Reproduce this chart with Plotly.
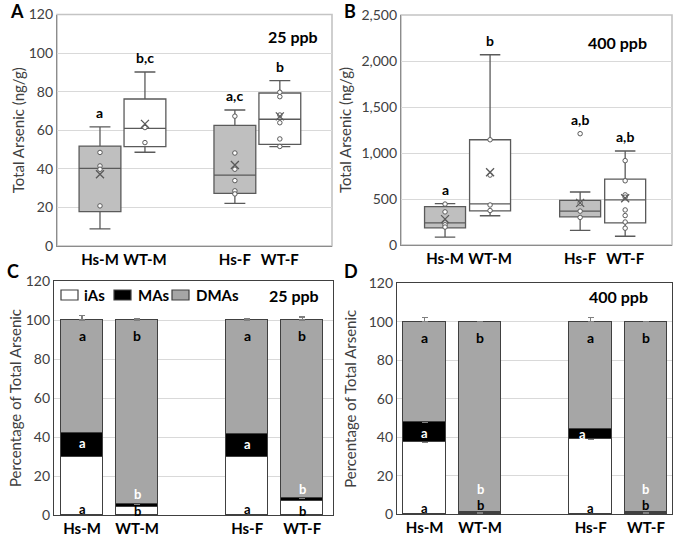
import plotly.graph_objects as go

# ---------------- data ----------------
groups = ["Hs-M", "WT-M", "Hs-F", "WT-F"]

# Panel A: total arsenic, 25 ppb (ng/g) - box statistics
a_lower = [8.9, 48.6, 22.1, 51.5]
a_q1 = [17.8, 51.5, 27.3, 52.7]
a_median = [40.2, 61.0, 36.7, 65.7]
a_q3 = [51.8, 76.2, 62.5, 79.3]
a_upper = [61.8, 90.2, 70.5, 85.7]
a_mean = [37.2, 63.3, 42.0, 67.2]
a_points = [[48.5, 41.5, 39.8, 20.8],
            [61.4, 53.6],
            [67.3, 48.2, 39.8, 33.9, 28.6, 27.0],
            [79.7, 77.4, 67.9, 63.9, 55.5, 51.6]]
a_letters = ["a", "b,c", "a,c", "b"]

# Panel B: total arsenic, 400 ppb (ng/g) - box statistics
b_lower = [85, 318, 160, 95]
b_q1 = [187, 372, 306, 240]
b_median = [240, 447, 368, 490]
b_q3 = [417, 1144, 485, 716]
b_upper = [450, 2068, 576, 1022]
b_mean = [281, 791, 458, 508]
b_points = [[445, 360, 240, 220, 195],
            [1144, 760, 435, 375],
            [1210, 455, 368, 300],
            [917, 698, 545, 520, 381, 320, 250, 183]]
b_letters = ["a", "b", "a,b", "a,b"]

# Panel C: species percentages, 25 ppb
c_ias = [30.0, 4.2, 30.0, 7.3]
c_mas = [12.2, 1.4, 11.7, 1.3]
c_dmas = [57.8, 94.4, 58.3, 91.4]
c_ias_err = [2.5, 0.7, 2.8, 0.8]
c_mas_err = [0.4, 0.3, 0.4, 0.3]
c_dmas_err = [2.3, 0.8, 0.6, 1.5]
c_ias_letters = ["a", "b", "a", "b"]
c_mas_letters = ["a", "b", "a", "b"]
c_dmas_letters = ["a", "b", "a", "b"]

# Panel D: species percentages, 400 ppb
d_ias = [37.2, 0.6, 38.8, 0.5]
d_mas = [10.8, 0.4, 5.6, 0.4]
d_dmas = [52.0, 99.0, 55.6, 99.1]
d_ias_err = [2.0, 0.2, 3.0, 0.2]
d_mas_err = [2.0, 0.1, 1.5, 0.1]
d_dmas_err = [2.3, 0.3, 2.2, 0.3]
d_ias_letters = ["a", "b", "a", "b"]
d_mas_letters = ["a", "b", "a", "b"]
d_dmas_letters = ["a", "b", "a", "b"]

species = ["iAs", "MAs", "DMAs"]

# ---------------- layout helpers ----------------
W, H = 685, 538
FONT = "Lato"
DARK = "#404040"
pos = [0, 1, 3, 4]          # x slots (gap between male and female groups)

def px_x(p):
    return p / W

def px_y(p):
    return 1 - p / H

fig = go.Figure()

box_fill = ["#bfbfbf", "#ffffff", "#bfbfbf", "#ffffff"]
box_line = "#5a5a5a"

def add_boxes(xa, ya, lower, q1, med, q3, upper, mean, points, width):
    for i in range(4):
        fig.add_trace(go.Box(
            x=[pos[i]], lowerfence=[lower[i]], q1=[q1[i]], median=[med[i]],
            q3=[q3[i]], upperfence=[upper[i]], orientation="v",
            width=width, whiskerwidth=0.5, boxpoints=False,
            fillcolor=box_fill[i], line=dict(color=box_line, width=1.3),
            xaxis=xa, yaxis=ya, showlegend=False, hoverinfo="skip"))
        fig.add_trace(go.Scatter(
            x=[pos[i]] * len(points[i]), y=points[i], mode="markers",
            marker=dict(symbol="circle", size=4.5, color="white",
                        line=dict(color=box_line, width=1)),
            xaxis=xa, yaxis=ya, showlegend=False, hoverinfo="skip",
            cliponaxis=False))
        fig.add_trace(go.Scatter(
            x=[pos[i]], y=[mean[i]], mode="markers",
            marker=dict(symbol="x-thin", size=8,
                        line=dict(color=box_line, width=1.3)),
            xaxis=xa, yaxis=ya, showlegend=False, hoverinfo="skip"))

add_boxes("x", "y", a_lower, a_q1, a_median, a_q3, a_upper, a_mean, a_points, 0.93)
add_boxes("x2", "y2", b_lower, b_q1, b_median, b_q3, b_upper, b_mean, b_points, 0.91)

bar_fill = ["#ffffff", "#000000", "#a6a6a6"]

def add_bars(xa, ya, vals, errs, width):
    for k in range(3):
        fig.add_trace(go.Bar(
            x=pos, y=vals[k], name=species[k], width=width,
            marker=dict(color=bar_fill[k], line=dict(color=DARK, width=1.3)),
            error_y=dict(type="data", array=errs[k], arrayminus=[0] * 4,
                         symmetric=False, color="#7f7f7f", thickness=1.2, width=3),
            xaxis=xa, yaxis=ya, showlegend=False, hoverinfo="skip"))

add_bars("x3", "y3", [c_ias, c_mas, c_dmas], [c_ias_err, c_mas_err, c_dmas_err], 0.76)
add_bars("x4", "y4", [d_ias, d_mas, d_dmas], [d_ias_err, d_mas_err, d_dmas_err], 0.77)

# ---------------- axes ----------------
tick_font = dict(family=FONT, size=14, color=DARK)
xtick_font = dict(family=FONT, size=15, color="#000000", weight="bold")
title_font = dict(family=FONT, size=15, color=DARK)

def xaxis(dom, rng, anchor, line_color, mirror):
    return dict(domain=dom, range=rng, anchor=anchor, tickvals=pos, ticktext=groups,
                tickfont=xtick_font, showgrid=False, zeroline=False,
                showline=True, linecolor=line_color, linewidth=1.3, mirror=mirror,
                ticks="", fixedrange=True, automargin=False)

def yaxis(dom, rng, dtick, anchor, title, line_color, mirror, standoff, fmt=None):
    d = dict(domain=dom, range=rng, dtick=dtick, anchor=anchor,
             tickfont=tick_font, showgrid=True, gridcolor="#d9d9d9", gridwidth=1,
             zeroline=False, showline=True, linecolor=line_color, linewidth=1.3,
             mirror=mirror, ticks="", automargin=False, fixedrange=True,
             title=dict(text=title, font=title_font, standoff=standoff))
    if fmt:
        d["tickformat"] = fmt
    return d

A_dx = [px_x(57), px_x(332)]
A_dy = [px_y(246), px_y(14.5)]
B_dx = [px_x(401), px_x(672)]
B_dy = [px_y(245), px_y(15)]
C_dx = [px_x(54), px_x(333)]
C_dy = [px_y(515), px_y(281)]
D_dx = [px_x(397), px_x(672)]
D_dy = [px_y(514.3), px_y(283.3)]

fig.update_layout(
    xaxis=xaxis(A_dx, [-0.956, 5.16], "y", "#8c8c8c", False),
    yaxis=yaxis(A_dy, [0, 120], 20, "x", "Total Arsenic (ng/g)", "#8c8c8c", False, 0),
    xaxis2=xaxis(B_dx, [-0.978, 5.04], "y2", "#8c8c8c", False),
    yaxis2=yaxis(B_dy, [0, 2500], 500, "x2", "Total Arsenic (ng/g)", "#8c8c8c", False, 6, ",d"),
    xaxis3=xaxis(C_dx, [-0.51, 4.56], "y3", DARK, True),
    yaxis3=yaxis(C_dy, [0, 120], 20, "x3", "Percentage of Total Arsenic", DARK, True, 0),
    xaxis4=xaxis(D_dx, [-0.5, 4.47], "y4", DARK, True),
    yaxis4=yaxis(D_dy, [0, 120], 20, "x4", "Percentage of Total Arsenic", DARK, True, 8),
)

# light frame on A and B (top/right edges)
for xr, yr in [("x", "y"), ("x2", "y2")]:
    fig.add_shape(type="rect", xref=f"{xr} domain", yref=f"{yr} domain",
                  x0=0, x1=1, y0=0, y1=1, layer="below",
                  line=dict(color="#c4c4c4", width=1.6))

# ---------------- annotations ----------------
ann = []
lbl_font = dict(family=FONT, size=14, color="#000000", weight="bold")

def box_labels(xa, ya, letters, upper, points):
    for i in range(4):
        top = max([upper[i]] + points[i])
        ann.append(dict(x=pos[i], y=top, xref=xa, yref=ya, text=letters[i],
                        showarrow=False, yshift=14, font=lbl_font))

box_labels("x", "y", a_letters, a_upper, a_points)
box_labels("x2", "y2", b_letters, b_upper, b_points)

# stacked-bar letter positions (layout)
c_dmas_y = [92, 92, 92, 92]
c_mas_y = [37, 10.8, 36.5, 13.4]
c_ias_y = [3.2, 2.0, 3.2, 2.0]
d_dmas_y = [92, 92, 92, 92]
d_mas_y = [42, 13, 41.5, 13]
d_ias_y = [3.2, 4.8, 3.2, 4.8]
d_mas_dx = [0, 0, -0.15, 0]

def bar_labels(xa, ya, letters, ys, color, dx=None, size=14):
    for i in range(4):
        ann.append(dict(x=pos[i] + (dx[i] if dx else 0), y=ys[i], xref=xa, yref=ya,
                        text=letters[i], showarrow=False,
                        font=dict(family=FONT, size=size, color=color, weight="bold")))

bar_labels("x3", "y3", c_dmas_letters, c_dmas_y, "#000000")
bar_labels("x3", "y3", c_mas_letters, c_mas_y, "#ffffff", size=13)
bar_labels("x3", "y3", c_ias_letters, c_ias_y, "#000000", size=13)
bar_labels("x4", "y4", d_dmas_letters, d_dmas_y, "#000000")
bar_labels("x4", "y4", d_mas_letters, d_mas_y, "#ffffff", d_mas_dx, size=13)
bar_labels("x4", "y4", d_ias_letters, d_ias_y, "#000000", size=13)

ppb_font = dict(family=FONT, size=16, color="#000000", weight="bold")
for text, x, y in [("25 ppb", 293, 37), ("400 ppb", 617, 42), ("25 ppb", 294, 295), ("400 ppb", 618, 296)]:
    ann.append(dict(x=px_x(x), y=px_y(y), xref="paper", yref="paper", text=text,
                    showarrow=False, font=ppb_font, xanchor="center", yanchor="middle"))

panel_font = dict(family=FONT, size=18, color="#000000", weight="bold")
for text, x, y in [("A", 17, 11), ("B", 350, 11), ("C", 13, 271), ("D", 351, 271)]:
    ann.append(dict(x=px_x(x), y=px_y(y), xref="paper", yref="paper", text=text,
                    showarrow=False, font=panel_font, xanchor="center", yanchor="middle"))

# legend for panel C (species key): swatches + labels
leg_swatch_x = [61, 114, 172]
leg_text_x = [82, 136, 194]
leg_y0, leg_y1 = 290, 300
for k in range(3):
    fig.add_shape(type="rect", xref="paper", yref="paper",
                  x0=px_x(leg_swatch_x[k]), x1=px_x(leg_swatch_x[k] + 17),
                  y0=px_y(leg_y1), y1=px_y(leg_y0),
                  fillcolor=bar_fill[k], line=dict(color=DARK, width=1.2))
    ann.append(dict(x=px_x(leg_text_x[k]), y=px_y((leg_y0 + leg_y1) / 2),
                    xref="paper", yref="paper", text=species[k], showarrow=False,
                    xanchor="left", yanchor="middle",
                    font=dict(family=FONT, size=15, color="#000000", weight="bold")))

fig.update_layout(
    annotations=ann,
    width=W, height=H,
    margin=dict(l=0, r=0, t=0, b=0, autoexpand=False),
    paper_bgcolor="white", plot_bgcolor="white",
    barmode="stack", bargap=0,
    font=dict(family=FONT, color=DARK),
    showlegend=False,
)

# remove the default page margin so the figure fills the window exactly
fig.write_html("out.html",
               config={"displayModeBar": False},
               post_script="document.body.style.margin='0';document.body.style.padding='0';")
